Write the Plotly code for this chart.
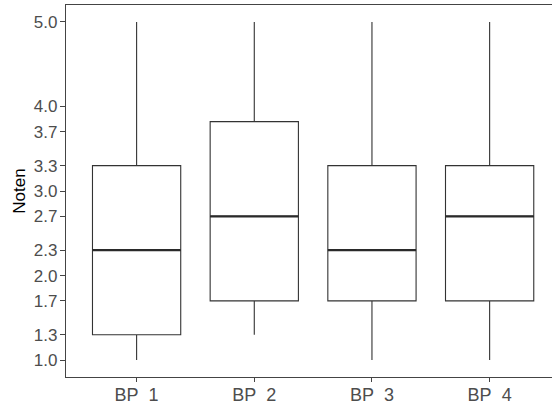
import plotly.graph_objects as go

# Data
categories = ["BP\u00a0\u00a01", "BP\u00a0\u00a02", "BP\u00a0\u00a03", "BP\u00a0\u00a04"]
lower_whisker = [1.0, 1.3, 1.0, 1.0]
q1_values = [1.3, 1.7, 1.7, 1.7]
median_values = [2.3, 2.7, 2.3, 2.7]
q3_values = [3.3, 3.82, 3.3, 3.3]
upper_whisker = [5.0, 5.0, 5.0, 5.0]
y_ticks = [1.0, 1.3, 1.7, 2.0, 2.3, 2.7, 3.0, 3.3, 3.7, 4.0, 5.0]
y_tick_labels = ["%.1f" % v for v in y_ticks]

positions = list(range(1, len(categories) + 1))
box_width = 0.75
line_color = "#333333"
font_family = "Liberation Sans, Arial, sans-serif"

fig = go.Figure()
for pos, lo, a, m, b, hi in zip(positions, lower_whisker, q1_values, median_values, q3_values, upper_whisker):
    fig.add_trace(go.Box(
        x=[pos], q1=[a], median=[m], q3=[b], lowerfence=[lo], upperfence=[hi],
        width=box_width, fillcolor="white",
        line=dict(color=line_color, width=1.1),
        whiskerwidth=0, boxpoints=False, showlegend=False, hoverinfo="skip",
    ))

# Thicker median lines (ggplot fatten)
mx, my = [], []
for pos, m in zip(positions, median_values):
    mx += [pos - box_width / 2, pos + box_width / 2, None]
    my += [m, m, None]
fig.add_trace(go.Scatter(x=mx, y=my, mode="lines", line=dict(color="#2a2a2a", width=2.2),
                         showlegend=False, hoverinfo="skip"))

fig.update_layout(
    width=552, height=405,
    margin=dict(l=66, r=0, t=5, b=28, autoexpand=False),
    paper_bgcolor="white", plot_bgcolor="white",
    font=dict(family=font_family, size=17, color="#4d4d4d"),
)
fig.update_xaxes(
    range=[0.4, 4.53], tickmode="array", tickvals=positions, ticktext=categories,
    showline=True, linecolor="#444444", linewidth=1.2, mirror=True,
    ticks="outside", ticklen=4, tickcolor="#444444", tickwidth=1,
    showgrid=False, zeroline=False, automargin=False,
    ticklabelstandoff=-3,
    tickfont=dict(size=18, color="#4d4d4d"),
)
fig.update_yaxes(
    range=[0.8, 5.2], tickmode="array", tickvals=y_ticks, ticktext=y_tick_labels,
    showline=True, linecolor="#444444", linewidth=1.2,
    ticks="outside", ticklen=5, tickcolor="#444444", tickwidth=1,
    showgrid=False, zeroline=False, automargin=False,
    ticklabelstandoff=-1,
    tickfont=dict(size=17, color="#4d4d4d"),
    title=dict(text="Noten", font=dict(size=17, color="black"), standoff=3),
)

fig.write_html("out.html", config={"displayModeBar": False},
               post_script="document.body.style.margin='0';document.body.style.overflow='hidden';")
